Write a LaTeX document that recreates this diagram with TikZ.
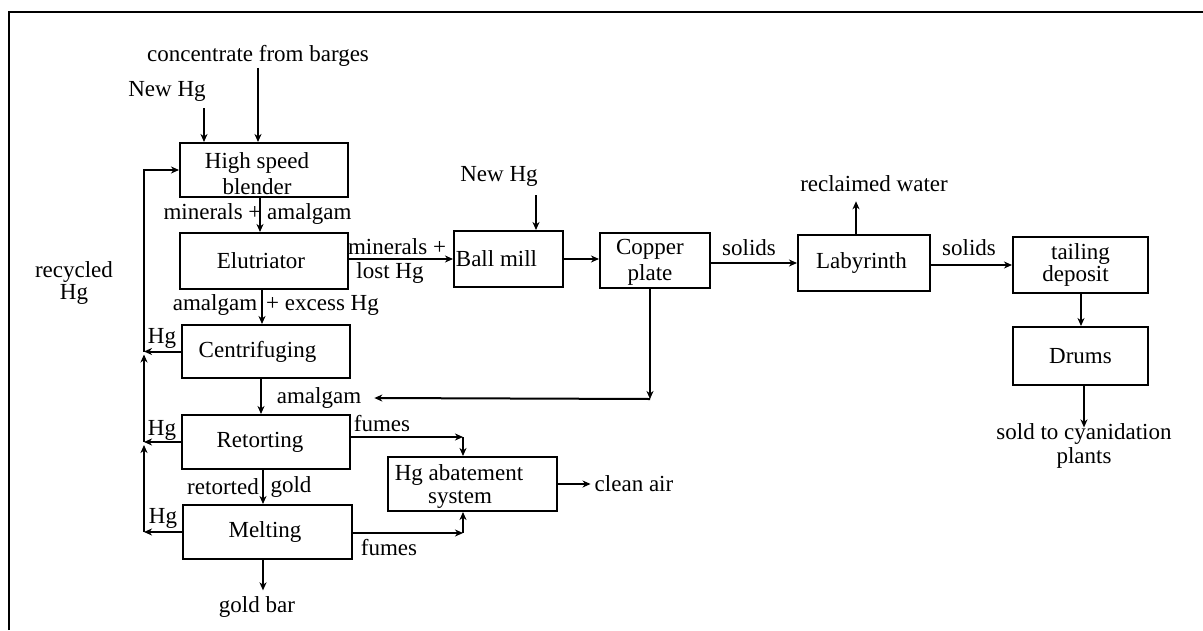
\documentclass[tikz,border=0pt]{standalone}
\usepackage{fontspec}
\setmainfont{Liberation Serif}
\usetikzlibrary{arrows.meta,calc}
\begin{document}
\begin{tikzpicture}[x=1pt,y=-1pt,
  font=\fontsize{23}{26}\selectfont,
  box/.style={draw, line width=2pt, inner sep=0pt, align=center},
  lbl/.style={inner sep=1pt, align=center},
  arr/.style={line width=2pt, -{Stealth[length=8pt,width=7pt,inset=2.5pt]}}]
\useasboundingbox (0,0) rectangle (1203,630);
\draw[line width=2.4pt] (9,630) -- (9,12) -- (1203,12);

% boxes
\node[box, minimum width=168pt, minimum height=54pt] (blender) at (264,170) {\rule{0pt}{23.5pt}High speed\hspace*{14pt}\\blender\hspace*{14pt}};
\node[box, minimum width=168pt, minimum height=56pt] (elut) at (264,261) {Elutriator\hspace*{6pt}};
\node[box, minimum width=168pt, minimum height=53pt] (centr) at (266,351.5) {Centrifuging\hspace*{17pt}};
\node[box, minimum width=168pt, minimum height=54pt] (retort) at (266,442) {Retorting\hspace*{12pt}};
\node[box, minimum width=169pt, minimum height=54pt] (melt) at (267.5,532) {Melting\hspace*{5pt}};
\node[box, minimum width=169pt, minimum height=54pt, font=\fontsize{23}{23}\selectfont] (abate) at (472.5,484) {\rule{0pt}{20.5pt}Hg abatement\hspace*{27pt}\\system\hspace*{25pt}};
\node[box, minimum width=109pt, minimum height=56pt] (ball) at (508.5,259) {Ball mill\hspace*{24pt}};
\node[box, minimum width=110pt, minimum height=55pt, font=\fontsize{23}{26}\selectfont] (copper) at (655,260.5) {\rule{0pt}{19pt}Copper\hspace*{10pt}\\plate\hspace*{10pt}};
\node[box, minimum width=132pt, minimum height=56pt] (laby) at (864,263) {Labyrinth\hspace*{5pt}};
\node[box, minimum width=135pt, minimum height=56pt, font=\fontsize{23}{20}\selectfont] (tail) at (1080.5,265) {tailing\\deposit\hspace*{10pt}};
\node[box, minimum width=135pt, minimum height=58pt] (drums) at (1080.5,356) {Drums};

% labels
\node[lbl] (conc) at (258,56) {concentrate from barges};
\node[lbl] (nhg1) at (167,91) {New Hg};
\node[lbl] (nhg2) at (499,176) {New Hg};
\node[lbl] (l1) at (257.5,214) {minerals + amalgam};
\node[lbl] (l2a) at (215,305) {amalgam};
\node[lbl] (l2b) at (322.5,305) {+ excess Hg};
\node[lbl] (l3) at (319,398) {amalgam};
\node[lbl] (l4a) at (223,487) {retorted};
\node[lbl] (l4b) at (291,487) {gold};
\node[lbl] (gbar) at (257,607) {gold bar};
\node[lbl] (hg1) at (162,338) {Hg};
\node[lbl] (hg2) at (162,430) {Hg};
\node[lbl] (hg3) at (163,518) {Hg};
\node[lbl, font=\fontsize{23}{22}\selectfont] (rec) at (74,283) {recycled\\Hg};
\node[lbl] (f1) at (382,424) {fumes};
\node[lbl] (f2) at (389,548) {fumes};
\node[lbl] (clean) at (634,484) {clean air};
\node[lbl] (mla) at (397,247) {minerals +};
\node[lbl] (mlb) at (390,273) {lost Hg};
\node[lbl] (s1) at (749,248) {solids};
\node[lbl] (s2) at (969,248) {solids};
\node[lbl] (rw) at (874,184) {reclaimed water};
\node[lbl, font=\fontsize{23}{24}\selectfont] (sold) at (1084,446) {sold to cyanidation\\plants};

% coordinates
\coordinate (c1) at (204,108);
\coordinate (c2) at (536,195);
\coordinate (fb) at (144,0);
\coordinate (fc1) at (463,437);
\coordinate (fc2) at (463,533);
\coordinate (amc) at (650,399);

% connectors
\draw[arr] (conc.south) -- (conc.south |- blender.north);
\draw[arr] (c1) -- (c1 |- blender.north);
\draw[arr] (melt.west) -- (melt.west -| fb);
\draw[arr] (retort.west) -- (retort.west -| fb);
\draw[arr] (centr.west) -- (centr.west -| fb);
\draw[arr, shorten >=3pt] (melt.west -| fb) -- (retort.west -| fb);
\draw[arr, shorten >=3pt] (retort.west -| fb) -- (centr.west -| fb);
\draw[arr] (centr.west -| fb) |- (blender.west);

\draw[arr] ([xshift=-4pt]blender.south) -- ([xshift=-4pt]elut.north);
\draw[arr] ([xshift=-2pt]elut.south) -- ([xshift=-2pt]elut.south |- centr.north);
\draw[arr] ([xshift=-5pt]centr.south) -- ([xshift=-5pt]retort.north);
\draw[arr] ([xshift=-3pt]retort.south) -- ([xshift=-3pt]retort.south |- melt.north);
\draw[arr, shorten >=5pt] ([xshift=-4.5pt]melt.south) -- ([xshift=-4.5pt]melt.south |- gbar.north);

\draw[arr] (retort.east |- fc1) -- (fc1);
\draw[arr] (fc1) -- (fc1 |- abate.north);
\draw[arr] (melt.east |- fc2) -- (fc2);
\draw[arr] (fc2) -- (fc2 |- abate.south);
\draw[arr, shorten >=3pt] (abate.east) -- (clean.west);

\draw[arr] (elut.east |- ball.west) -- (ball.west);
\draw[arr] (c2) -- (c2 |- ball.north);
\draw[arr] (ball.east) -- (ball.east -| copper.west);
\draw[arr] (copper.south -| amc) -- (amc);
\draw[arr] (amc) -- ([xshift=12pt]l3.east);
\draw[arr] (copper.east |- laby.west) -- (laby.west);
\draw[arr, shorten >=8pt] ([xshift=-8pt]laby.north) -- ([xshift=-8pt]laby.north |- rw.south);
\draw[arr] (laby.east |- tail.west) -- (tail.west);
\draw[arr] ([xshift=0.5pt]tail.south) -- ([xshift=0.5pt]drums.north);
\draw[arr, shorten >=-5pt] ([xshift=3.5pt]drums.south) -- ([xshift=3.5pt]drums.south |- sold.north);
\end{tikzpicture}
\end{document}
